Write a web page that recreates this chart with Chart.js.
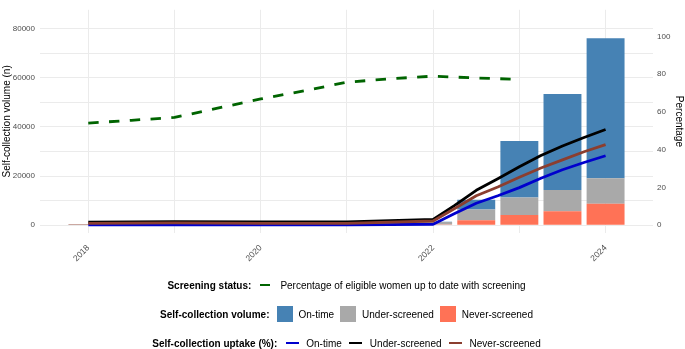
<!DOCTYPE html>
<html><head><meta charset="utf-8">
<script src="https://cdn.jsdelivr.net/npm/chart.js@4"></script>
<style>
html,body{margin:0;padding:0;background:#fff;}
#wrap{position:relative;width:685px;height:349px;overflow:hidden;}
canvas{position:absolute;left:0;top:0;}
.row{position:absolute;left:0;width:693px;height:16px;display:flex;justify-content:center;align-items:center;font-family:"Liberation Sans",Arial,sans-serif;font-size:10px;color:#000;white-space:nowrap;}
.ttl{font-weight:bold;margin-right:7px;}
.sq{width:16px;height:16px;margin-right:6px;flex:none;}
.ln{width:16px;height:16px;position:relative;margin-right:6px;flex:none;}
.ln i{position:absolute;left:1.6px;top:6.6px;height:2.8px;}
.txt{margin-right:6px;}
.txt:last-child{margin-right:0;}
</style>
</head><body>
<div id="wrap">
<canvas id="c" width="685" height="349"></canvas>
<div class="row" style="top:277px;">
  <span class="ttl">Screening status:</span>
  <span class="ln"><i style="width:10.5px;background:#006400"></i></span>
  <span class="txt">Percentage of eligible women up to date with screening</span>
</div>
<div class="row" style="top:306px;">
  <span class="ttl">Self-collection volume:</span>
  <span class="sq" style="background:#4682B4"></span><span class="txt">On-time</span>
  <span class="sq" style="background:#A9A9A9"></span><span class="txt">Under-screened</span>
  <span class="sq" style="background:#FF7256"></span><span class="txt">Never-screened</span>
</div>
<div class="row" style="top:335px;">
  <span class="ttl">Self-collection uptake (%):</span>
  <span class="ln"><i style="width:12.8px;background:#0000CD"></i></span><span class="txt">On-time</span>
  <span class="ln"><i style="width:12.8px;background:#000000"></i></span><span class="txt">Under-screened</span>
  <span class="ln"><i style="width:12.8px;background:#8B3E2F"></i></span><span class="txt">Never-screened</span>
</div>
</div>
<script>
// ---- data ----
const barYears = [2022, 2022.5, 2023, 2023.5, 2024];
const volNeverScreened = [300, 2000, 4100, 5700, 8760];
const volUnderScreened = [1000, 4375, 7170, 8640, 10360];
const volOnTime = [50, 3985, 22990, 39050, 56980];

const screenYears = [2018, 2018.5, 2019, 2019.5, 2020, 2020.5, 2021, 2021.5, 2022, 2022.5, 2023];
const screenPct = [54.1, 55.6, 57.1, 62.0, 66.9, 71.2, 75.8, 77.6, 79.0, 78.0, 77.3];

const uptakeYears = [2018, 2019, 2020, 2021, 2022, 2022.25, 2022.5, 2022.75, 2023, 2023.25, 2023.5, 2023.75, 2024];
const uptakeOnTime = [0.2, 0.2, 0.2, 0.2, 0.5, 6.2, 11.6, 15.6, 19.9, 24.9, 29.4, 33.2, 36.8];
const uptakeUnderScreened = [1.6, 1.9, 1.7, 1.7, 3.0, 10.5, 18.5, 24.6, 31.0, 36.9, 42.0, 46.5, 50.7];
const uptakeNeverScreened = [1.0, 1.2, 1.0, 1.0, 2.2, 8.8, 15.6, 20.2, 25.4, 30.3, 34.6, 38.9, 42.7];

const preYears = [2017.77, 2018];
const prePct = [0.35, 0.35];

const xTickYears = [2018, 2019, 2020, 2021, 2022, 2023, 2024];
const leftTicks = [0, 10000, 20000, 30000, 40000, 50000, 60000, 70000, 80000];
const rightTicks = [0, 20, 40, 60, 80, 100];

// ---- helpers ----
const pts = (xs, ys) => xs.map((x, i) => ({x: x, y: ys[i]}));

Chart.defaults.font.family = '"Liberation Sans", Arial, sans-serif';
Chart.defaults.color = '#4D4D4D';

const barCommon = {type: 'bar', yAxisID: 'y', xAxisID: 'x', order: 6, stack: 'vol',
  categoryPercentage: 1.0, barPercentage: 0.88, borderWidth: 0};
const lineCommon = {type: 'line', yAxisID: 'y2', xAxisID: 'x', pointRadius: 0, fill: false,
  tension: 0, borderWidth: 2.8, borderCapStyle: 'butt', borderJoinStyle: 'round'};

new Chart(document.getElementById('c'), {
  data: {
    datasets: [
      Object.assign({}, barCommon, {label: 'Never-screened', data: pts(barYears, volNeverScreened), backgroundColor: '#FF7256'}),
      Object.assign({}, barCommon, {label: 'Under-screened', data: pts(barYears, volUnderScreened), backgroundColor: '#A9A9A9'}),
      Object.assign({}, barCommon, {label: 'On-time', data: pts(barYears, volOnTime), backgroundColor: '#4682B4'}),
      Object.assign({}, lineCommon, {label: 'pre', data: pts(preYears, prePct), borderColor: 'rgba(139,62,47,0.45)', borderWidth: 1, order: 5}),
      Object.assign({}, lineCommon, {label: 'Screening', data: pts(screenYears, screenPct), borderColor: '#006400', borderDash: [10.4, 10.4], order: 1}),
      Object.assign({}, lineCommon, {label: 'Uptake On-time', data: pts(uptakeYears, uptakeOnTime), borderColor: '#0000CD', order: 4}),
      Object.assign({}, lineCommon, {label: 'Uptake Under-screened', data: pts(uptakeYears, uptakeUnderScreened), borderColor: '#000000', order: 3}),
      Object.assign({}, lineCommon, {label: 'Uptake Never-screened', data: pts(uptakeYears, uptakeNeverScreened), borderColor: '#8B3E2F', order: 2})
    ]
  },
  options: {
    responsive: false,
    animation: false,
    devicePixelRatio: 1,
    layout: {padding: {top: 5, left: 0, right: 0, bottom: 0}},
    plugins: {legend: {display: false}, tooltip: {enabled: false}},
    scales: {
      x: {
        type: 'linear', position: 'bottom', stacked: true, offset: false,
        min: 2017.44, max: 2024.55,
        afterBuildTicks: s => { s.ticks = xTickYears.map(v => ({value: v})); },
        afterFit: s => { s.height = 116; },
        border: {display: false},
        grid: {color: '#EBEBEB', lineWidth: 1, drawTicks: false, offset: false},
        ticks: {autoSkip: false, minRotation: 45, maxRotation: 45, padding: 10,
          font: {size: 8.5}, color: '#4D4D4D',
          callback: v => (v % 2 === 0 ? String(v) : '')}
      },
      y: {
        type: 'linear', position: 'left', stacked: true,
        min: -3187, max: 87650,
        afterBuildTicks: s => { s.ticks = leftTicks.map(v => ({value: v})); },
        afterFit: s => { s.width = 40; },
        border: {display: false},
        grid: {color: '#EBEBEB', lineWidth: 1, drawTicks: false},
        ticks: {padding: 5, font: {size: 8}, color: '#4D4D4D',
          callback: v => (v % 20000 === 0 ? String(v) : '')},
        title: {display: true, text: 'Self-collection volume (n)', color: '#000',
          font: {size: 10}, padding: {top: 1.5, bottom: 0}}
      },
      y2: {
        type: 'linear', position: 'right', stacked: false,
        min: -4.15, max: 114.17,
        afterBuildTicks: s => { s.ticks = rightTicks.map(v => ({value: v})); },
        afterFit: s => { s.width = 32; },
        border: {display: false},
        grid: {display: false, drawTicks: false},
        ticks: {padding: 4, font: {size: 8}, color: '#4D4D4D', callback: v => String(v)},
        title: {display: true, text: 'Percentage', color: '#000',
          font: {size: 10}, padding: {top: 0.5, bottom: 0}}
      }
    }
  }
});
</script>
</body></html>
